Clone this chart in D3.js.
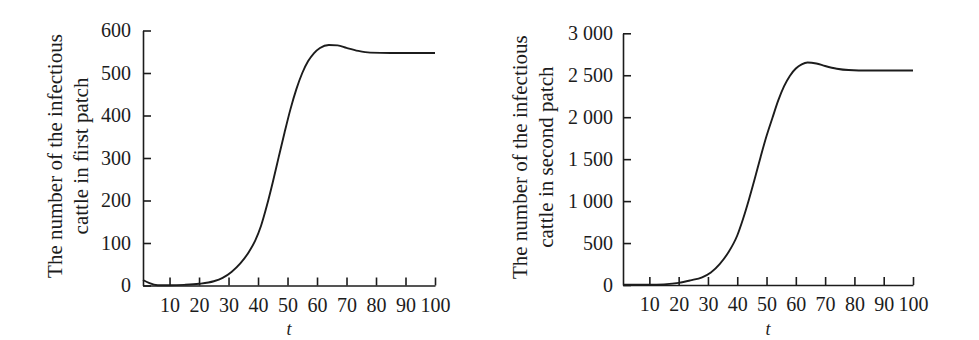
<!DOCTYPE html>
<html>
<head>
<meta charset="utf-8">
<script src="https://cdn.jsdelivr.net/npm/d3@7"></script>
<style>
  html, body { margin: 0; padding: 0; background: #fff; }
  svg text { font-family: "Liberation Serif", "DejaVu Serif", serif; fill: #1c1c1c; }
  .axis path, .axis line { stroke: #1c1c1c; stroke-width: 1.6; }
  .axis text { font-size: 20px; }
</style>
</head>
<body>
<div id="chart"></div>
<script>
// time points
const tFirst = [1, 3, 6, 10, 15, 20, 25, 28, 31, 34, 37, 39, 41, 43, 45, 47, 49, 51, 53, 55, 57, 59, 61, 64, 67, 70, 74, 78, 85, 100];
const firstPatch = [13, 6, 0.5, 0.5, 1.5, 4, 10, 18, 32, 52, 80, 105, 140, 188, 243, 302, 360, 415, 462, 500, 528, 547, 559, 566, 565, 559, 552, 548, 547, 547];

const tSecond = [1, 5, 10, 15, 20, 24, 28, 31, 34, 37, 40, 42, 44, 46, 48, 50, 52, 54, 56, 58, 60, 62, 64, 67, 70, 74, 78, 85, 100];
const secondPatch = [5, 3, 3, 8, 25, 55, 92, 150, 250, 390, 590, 790, 1020, 1270, 1530, 1775, 1990, 2200, 2370, 2495, 2580, 2630, 2652, 2640, 2610, 2578, 2562, 2556, 2557];

const xTicks = [10, 20, 30, 40, 50, 60, 70, 80, 90, 100];
const yTicksFirst = [0, 100, 200, 300, 400, 500, 600];
const yTicksSecond = [0, 500, 1000, 1500, 2000, 2500, 3000];

const spaced = d3.formatLocale({ decimal: '.', thousands: '\u00a0', grouping: [3], currency: ['', ''] }).format(',');

const svg = d3.select('#chart').append('svg')
  .attr('width', 979)
  .attr('height', 340);

function drawPanel(opts) {
  const x = d3.scaleLinear().domain([1, 100]).range([opts.left, opts.right]);
  const y = d3.scaleLinear().domain([0, opts.yMax]).range([opts.bottom, opts.top]);

  svg.append('g')
    .attr('class', 'axis')
    .attr('transform', `translate(0,${opts.bottom})`)
    .call(d3.axisBottom(x).tickValues(xTicks).tickSize(-8).tickSizeOuter(0).tickPadding(12));

  svg.append('g')
    .attr('class', 'axis')
    .attr('transform', `translate(${opts.left},0)`)
    .call(d3.axisLeft(y).tickValues(opts.yTicks).tickFormat(opts.fmt).tickSize(-8).tickSizeOuter(0).tickPadding(opts.pad));

  const pts = opts.t.map((t, i) => [t, opts.values[i]]);
  svg.append('path')
    .datum(pts)
    .attr('fill', 'none')
    .attr('stroke', '#1c1c1c')
    .attr('stroke-width', 1.9)
    .attr('d', d3.line().x(d => x(d[0])).y(d => y(d[1])).curve(d3.curveMonotoneX));

  // y title, two lines
  const cy = (opts.top + opts.bottom) / 2 - 2;
  opts.title.forEach((line, i) => {
    svg.append('text')
      .attr('transform', `translate(${opts.titleX[i]},${cy}) rotate(-90)`)
      .attr('text-anchor', 'middle')
      .attr('fill', '#1c1c1c')
      .style('font-size', '21px')
      .text(line);
  });

  svg.append('text')
    .attr('x', x(50.5))
    .attr('y', 335)
    .attr('text-anchor', 'middle')
    .attr('fill', '#1c1c1c')
    .style('font-size', '18px')
    .style('font-style', 'italic')
    .text('t');
}

drawPanel({
  left: 143, right: 435, top: 30.5, bottom: 285.5, yMax: 600,
  yTicks: yTicksFirst, fmt: d3.format('d'), pad: 12,
  t: tFirst, values: firstPatch,
  title: ['The number of the infectious', 'cattle in first patch'], titleX: [62, 88]
});

drawPanel({
  left: 623, right: 913, top: 33.3, bottom: 285, yMax: 3000,
  yTicks: yTicksSecond, fmt: spaced, pad: 10,
  t: tSecond, values: secondPatch,
  title: ['The number of the infectious', 'cattle in second patch'], titleX: [527, 553]
});
</script>
</body>
</html>
